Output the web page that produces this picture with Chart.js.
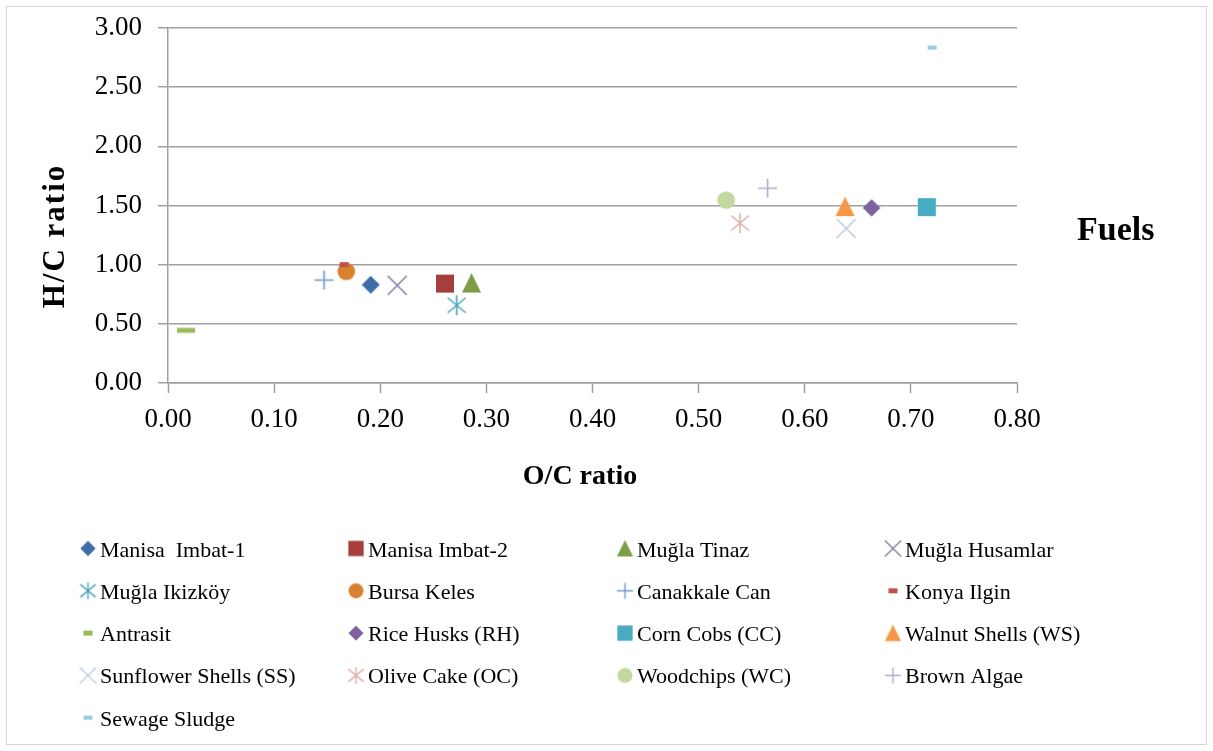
<!DOCTYPE html>
<html>
<head>
<meta charset="utf-8">
<script src="https://cdn.jsdelivr.net/npm/chart.js@4.4.0/dist/chart.umd.min.js"></script>
<style>
  html, body { margin: 0; padding: 0; background: #ffffff; }
  #wrap { position: relative; width: 1213px; height: 751px; }
</style>
</head>
<body>
<div id="wrap"><canvas id="fuelChart" width="1213" height="751"></canvas></div>
<script>
// Van Krevelen style data: O/C and H/C atomic ratios of the fuels
const fuelNames = [
  'Manisa  Imbat-1', 'Manisa Imbat-2', 'Muğla Tinaz', 'Muğla Husamlar',
  'Muğla Ikizköy', 'Bursa Keles', 'Canakkale Can', 'Konya Ilgin',
  'Antrasit', 'Rice Husks (RH)', 'Corn Cobs (CC)', 'Walnut Shells (WS)',
  'Sunflower Shells (SS)', 'Olive Cake (OC)', 'Woodchips (WC)', 'Brown Algae',
  'Sewage Sludge'
];
const ocRatio = [0.191, 0.261, 0.286, 0.216, 0.272, 0.168, 0.147, 0.166,
                 0.017, 0.663, 0.715, 0.638, 0.639, 0.539, 0.526, 0.565, 0.720];
const hcRatio = [0.83, 0.84, 0.845, 0.825, 0.657, 0.943, 0.87, 1.00,
                 0.445, 1.48, 1.486, 1.49, 1.306, 1.352, 1.545, 1.646, 2.834];
const xTickLabels = ['0.00', '0.10', '0.20', '0.30', '0.40', '0.50', '0.60', '0.70', '0.80'];
const yTickLabels = ['0.00', '0.50', '1.00', '1.50', '2.00', '2.50', '3.00'];

// Marker appearance per series (kind, colour, full width in px)
const markerKinds = ['diamond', 'square', 'triangle', 'x', 'asterisk', 'circle', 'plus', 'dash',
                     'dash', 'diamond', 'square', 'triangle', 'x', 'asterisk', 'circle', 'plus', 'dash'];
const markerColors = ['#3E6DA8', '#A63E3B', '#7F9C49', '#8C7BAB', '#4AA6BC', '#D8812F', '#6F96D1', '#C0504D',
                      '#9BBB59', '#7E61A0', '#48ABC4', '#F79646', '#BFCBE4', '#E6AFAE', '#C4D79F', '#B6A7CB', '#93CDDD'];
const markerWidths = [18, 18, 19, 19, 20, 17.6, 19, 9, 18, 17.7, 18, 19, 19, 20, 17.7, 19, 9];
const dashHeights = { 7: 5, 8: 5, 16: 4 };

const SERIF = '"Liberation Serif", "Times New Roman", serif';
const GRID = '#a0a0a0';

// Builds an Excel-like marker bitmap, centred in its canvas
function makeMarker(kind, color, w, dashH, lw) {
  const pad = 3;
  const S = Math.ceil(w) + pad * 2;
  const c = document.createElement('canvas');
  c.width = S; c.height = S;
  const g = c.getContext('2d');
  const m = S / 2, h = w / 2;
  g.fillStyle = color; g.strokeStyle = color; g.lineWidth = lw; g.lineCap = 'butt';
  g.beginPath();
  switch (kind) {
    case 'diamond':
      g.moveTo(m, m - h); g.lineTo(m + h, m); g.lineTo(m, m + h); g.lineTo(m - h, m); g.closePath(); g.fill();
      break;
    case 'square':
      g.fillRect(m - h, m - h, w, w);
      break;
    case 'triangle':
      g.moveTo(m, m - h * 1.05); g.lineTo(m + h, m + h * 1.0); g.lineTo(m - h, m + h * 1.0); g.closePath(); g.fill();
      break;
    case 'circle':
      g.arc(m, m, h, 0, Math.PI * 2); g.fill();
      break;
    case 'x':
      g.moveTo(m - h, m - h); g.lineTo(m + h, m + h);
      g.moveTo(m + h, m - h); g.lineTo(m - h, m + h); g.stroke();
      break;
    case 'plus':
      g.moveTo(m - h, m); g.lineTo(m + h, m);
      g.moveTo(m, m - h); g.lineTo(m, m + h); g.stroke();
      break;
    case 'asterisk':
      g.moveTo(m, m - h); g.lineTo(m, m + h);
      g.moveTo(m - h * 0.9, m - h * 0.75); g.lineTo(m + h * 0.9, m + h * 0.75);
      g.moveTo(m + h * 0.9, m - h * 0.75); g.lineTo(m - h * 0.9, m + h * 0.75); g.stroke();
      break;
    case 'dash':
      g.fillRect(m - h, m - dashH / 2, w, dashH);
      break;
  }
  return c;
}

const plotMarkers = fuelNames.map((_, i) =>
  makeMarker(markerKinds[i], markerColors[i], markerWidths[i], dashHeights[i] || 5, 1.6));
const legendMarkers = fuelNames.map((_, i) => {
  const k = markerKinds[i];
  const w = k === 'dash' ? 9 : markerWidths[i] * 0.85;
  return makeMarker(k, markerColors[i], w, dashHeights[i] || 5, 1.4);
});

const datasets = fuelNames.map((name, i) => ({
  label: name,
  data: [{ x: ocRatio[i], y: hcRatio[i] }],
  pointStyle: plotMarkers[i],
  pointRadius: 10,
  pointHoverRadius: 10,
  backgroundColor: markerColors[i],
  borderColor: markerColors[i],
  showLine: false,
  order: -i
}));

// Axis titles, the "Fuels" heading, the four-column legend and the outer frame
const decorations = {
  id: 'decorations',
  afterDraw(chart) {
    const ctx = chart.ctx;
    ctx.save();
    ctx.fillStyle = '#000';

    // Y axis title (rotated)
    ctx.save();
    ctx.font = 'bold 31px ' + SERIF;
    ctx.textAlign = 'center';
    ctx.textBaseline = 'alphabetic';
    if ('letterSpacing' in ctx) ctx.letterSpacing = '2px';
    ctx.translate(64, 236);
    ctx.rotate(-Math.PI / 2);
    ctx.fillText('H/C ratio', 0, 0);
    ctx.restore();

    // X axis title
    ctx.font = 'bold 28px ' + SERIF;
    ctx.textAlign = 'center';
    ctx.textBaseline = 'alphabetic';
    ctx.fillText('O/C ratio', 580, 484);

    // Legend heading
    ctx.font = 'bold 34px ' + SERIF;
    ctx.textAlign = 'left';
    ctx.fillText('Fuels', 1077, 240);

    // Legend entries, four per row
    const colMarker = [88, 356, 625, 893];
    const rowY = [548.5, 590.8, 633.1, 675.4, 717.7];
    ctx.font = '22px ' + SERIF;
    ctx.textAlign = 'left';
    chart.data.datasets.forEach((ds, i) => {
      const col = i % 4, row = Math.floor(i / 4);
      const mx = colMarker[col], my = rowY[row];
      Chart.helpers.drawPoint(ctx, { pointStyle: legendMarkers[i], radius: 8, rotation: 0 }, mx, my);
      ctx.fillStyle = '#000';
      ctx.fillText(ds.label, mx + 12, my + 8);
    });

    // Outer frame
    ctx.strokeStyle = '#d4d4d4';
    ctx.lineWidth = 1;
    ctx.strokeRect(6.5, 6.5, 1200, 738);
    ctx.restore();
  }
};

new Chart(document.getElementById('fuelChart'), {
  type: 'scatter',
  data: { datasets },
  options: {
    responsive: false,
    animation: false,
    events: [],
    layout: { padding: { top: 28, right: 196, bottom: 258, left: 0 } },
    plugins: {
      legend: { display: false },
      tooltip: { enabled: false },
      title: { display: false }
    },
    scales: {
      x: {
        type: 'linear',
        position: 'bottom',
        min: 0,
        max: 0.8,
        ticks: {
          stepSize: 0.1,
          autoSkip: false,
          maxRotation: 0,
          padding: 11,
          color: '#000',
          font: { family: SERIF, size: 27 },
          callback: (v, i) => xTickLabels[i]
        },
        grid: { drawOnChartArea: false, drawTicks: true, tickLength: 10, tickColor: GRID, tickWidth: 1.5 },
        border: { display: true, color: GRID, width: 1.5 },
        afterFit(scale) { scale.height = 110; }
      },
      y: {
        type: 'linear',
        min: 0,
        max: 3,
        ticks: {
          stepSize: 0.5,
          padding: 16,
          color: '#000',
          font: { family: SERIF, size: 27 },
          callback: (v, i) => yTickLabels[i]
        },
        grid: { color: GRID, lineWidth: 1.5, drawTicks: true, tickLength: 10, tickColor: GRID },
        border: { display: true, color: GRID, width: 1.5 },
        afterFit(scale) {
          scale.width = 168;
          scale.paddingTop = 0;
          scale.paddingBottom = 0;
        }
      }
    }
  },
  plugins: [decorations]
});
</script>
</body>
</html>
